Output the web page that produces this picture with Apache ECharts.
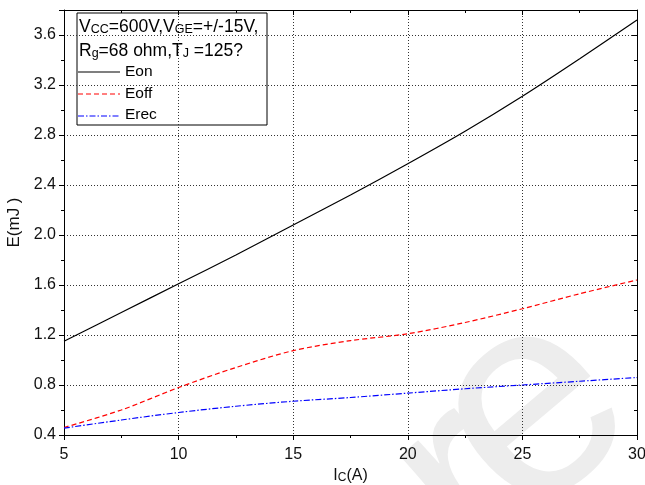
<!DOCTYPE html>
<html>
<head>
<meta charset="utf-8">
<script src="https://cdn.jsdelivr.net/npm/echarts@6/dist/echarts.min.js"></script>
<style>
  html, body { margin: 0; padding: 0; background: #fff; }
  #chart { width: 645px; height: 485px; }
</style>
</head>
<body>
<div id="chart"></div>
<script>
// Collector current (A) and switching energies (mJ)
const currentA = [5, 7.5, 10, 12.5, 15, 17.5, 20, 22.5, 25, 27.5, 30];
const eOn  = [1.15, 1.38, 1.61, 1.84, 2.08, 2.32, 2.57, 2.83, 3.11, 3.41, 3.72];
const eOff = [0.46, 0.60, 0.78, 0.94, 1.075, 1.155, 1.21, 1.30, 1.41, 1.53, 1.64];
const eRec = [0.455, 0.52, 0.58, 0.63, 0.67, 0.70, 0.735, 0.77, 0.80, 0.83, 0.86];

// Axis ranges and tick steps
const xRange = [5, 30];
const xStep = 5;
const yRange = [0.4, 3.8];
const yStep = 0.4;

const FONT = 'Liberation Sans, Arial, sans-serif';
const pairs = ys => currentA.map((x, i) => [x, ys[i]]);

const chart = echarts.init(document.getElementById('chart'), null, { renderer: 'canvas' });

const baseX = {
  type: 'value', min: xRange[0], max: xRange[1], interval: xStep,
  axisLine: { show: true, onZero: false, lineStyle: { color: '#000', width: 1 } }
};
const baseY = {
  type: 'value', min: yRange[0], max: yRange[1], interval: yStep,
  axisLine: { show: true, onZero: false, lineStyle: { color: '#000', width: 1 } }
};

// faint rotated watermark glyphs
const wmStyle = t => ({
  text: t, font: '290px Liberation Sans', fill: '#ededed',
  textAlign: 'center', textVerticalAlign: 'middle'
});

chart.setOption({
  backgroundColor: '#fff',
  animation: false,
  grid: { left: 64, right: 8, top: 10, bottom: 50, containLabel: false, outerBoundsMode: 'none' },
  xAxis: [
    Object.assign({}, baseX, {
      position: 'bottom',
      axisTick: { show: true, inside: false, length: 5, lineStyle: { color: '#000' } },
      minorTick: { show: true, splitNumber: 2, length: 3, lineStyle: { color: '#000' } },
      axisLabel: { color: '#111', fontSize: 16, fontFamily: FONT, margin: 12 },
      splitLine: { show: true, lineStyle: { color: '#333', width: 1, type: [1, 2] } },
      name: '{a|I}{b|C}{a|(A)}',
      nameLocation: 'middle', nameGap: 30,
      nameTextStyle: {
        rich: {
          a: { fontSize: 16, fontFamily: FONT, color: '#111', verticalAlign: 'bottom', lineHeight: 18 },
          b: { fontSize: 12, fontFamily: FONT, color: '#111', verticalAlign: 'bottom', lineHeight: 15 }
        }
      }
    }),
    Object.assign({}, baseX, {
      position: 'top',
      axisTick: { show: true, inside: true, length: 5, lineStyle: { color: '#000' } },
      minorTick: { show: true, splitNumber: 2, length: 3, lineStyle: { color: '#000' } },
      axisLabel: { show: false },
      splitLine: { show: false }
    })
  ],
  yAxis: [
    Object.assign({}, baseY, {
      position: 'left',
      axisTick: { show: true, inside: false, length: 5, lineStyle: { color: '#000' } },
      minorTick: { show: true, splitNumber: 2, length: 3, lineStyle: { color: '#000' } },
      axisLabel: {
        color: '#111', fontSize: 16, fontFamily: FONT, margin: 8,
        formatter: v => (v > 3.7 ? '' : v.toFixed(1))
      },
      splitLine: { show: true, lineStyle: { color: '#333', width: 1, type: [1, 2] } },
      name: 'E(mJ )', nameLocation: 'middle', nameGap: 38, nameRotate: 90,
      nameTextStyle: { fontSize: 17, fontFamily: FONT, color: '#111' }
    }),
    Object.assign({}, baseY, {
      position: 'right',
      axisTick: { show: true, inside: true, length: 5, lineStyle: { color: '#000' } },
      minorTick: { show: true, splitNumber: 2, length: 3, lineStyle: { color: '#000' } },
      axisLabel: { show: false },
      splitLine: { show: false }
    })
  ],
  series: [
    {
      name: 'Eon', type: 'line', data: pairs(eOn), smooth: 0.3, symbol: 'none',
      lineStyle: { color: '#000', width: 1.2, type: 'solid' }, z: 5
    },
    {
      name: 'Eoff', type: 'line', data: pairs(eOff), smooth: 0.3, symbol: 'none',
      lineStyle: { color: '#ff0000', width: 1.2, type: [5, 3] }, z: 5
    },
    {
      name: 'Erec', type: 'line', data: pairs(eRec), smooth: 0.3, symbol: 'none',
      lineStyle: { color: '#0000ff', width: 1.2, type: [6, 2, 1.5, 2] }, z: 5
    }
  ],
  graphic: [
    { type: 'text', x: 533, y: 413, rotation: 0.7, z: -10, silent: true, style: wmStyle('e') },
    { type: 'text', x: 469, y: 493, rotation: 0.7, z: -10, silent: true, style: wmStyle('r') },
    // condition box with the legend
    {
      type: 'group', z: 100,
      children: [
        { type: 'rect', shape: { x: 77, y: 13, width: 190, height: 112 },
          style: { fill: '#fff', stroke: '#000', lineWidth: 1 } },
        { type: 'text', x: 79, y: 16, style: {
            text: '{n|V}{s|CC}{n|=600V,V}{s|GE}{n|=+/-15V,}',
            rich: {
              n: { fontSize: 17.5, fontFamily: FONT, fill: '#000', verticalAlign: 'bottom', lineHeight: 20 },
              s: { fontSize: 12.5, fontFamily: FONT, fill: '#000', verticalAlign: 'bottom', lineHeight: 16 }
            } } },
        { type: 'text', x: 79, y: 40, style: {
            text: '{n|R}{g|g}{n|=68 ohm,T}{s|J}{n| =125?}',
            rich: {
              n: { fontSize: 17.5, fontFamily: FONT, fill: '#000', verticalAlign: 'bottom', lineHeight: 20 },
              s: { fontSize: 12.5, fontFamily: FONT, fill: '#000', verticalAlign: 'bottom', lineHeight: 16 },
              g: { fontSize: 12.5, fontFamily: FONT, fill: '#000', verticalAlign: 'bottom', lineHeight: 12 }
            } } },
        { type: 'line', shape: { x1: 78, y1: 72, x2: 120, y2: 72 },
          style: { stroke: '#000000', lineWidth: 1.2 } },
        { type: 'text', x: 125, y: 64, style: { text: 'Eon', font: '15.5px ' + FONT, fill: '#000' } },
        { type: 'line', shape: { x1: 78, y1: 94, x2: 120, y2: 94 },
          style: { stroke: '#ff0000', lineWidth: 1.2, lineDash: [5, 3] } },
        { type: 'text', x: 125, y: 86, style: { text: 'Eoff', font: '15.5px ' + FONT, fill: '#000' } },
        { type: 'line', shape: { x1: 78, y1: 116, x2: 120, y2: 116 },
          style: { stroke: '#0000ff', lineWidth: 1.2, lineDash: [6, 2, 1.5, 2] } },
        { type: 'text', x: 125, y: 107, style: { text: 'Erec', font: '15.5px ' + FONT, fill: '#000' } }
      ]
    }
  ]
});
</script>
</body>
</html>
